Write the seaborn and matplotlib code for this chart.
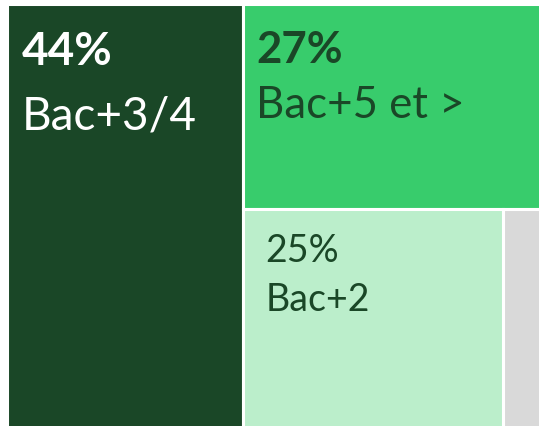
import matplotlib
matplotlib.use("Agg")
import matplotlib.pyplot as plt
from matplotlib.patches import Rectangle
import seaborn as sns

# data
labels = ["Bac+3/4", "Bac+5 et >", "Bac+2", "Autres"]
shares = [44, 27, 25, 4]
colors = ["#1a4727", "#38cc6c", "#bbeecb", "#d9d9d9"]
text_colors = ["white", "#1a4727", "#1a4727", "#1a4727"]
pct_bold = [True, True, False, False]
font_sizes = [33, 31.5, 27, 20]

sns.set_theme(style="white")
plt.rcParams["font.family"] = ["Lato", "DejaVu Sans"]

# simple treemap layout: first share is a full-height column,
# second takes the top of the rest, the others split the bottom row
total = sum(shares)
w0 = shares[0] / total
rest = total - shares[0]
h1 = shares[1] / rest
bottom = sum(shares[2:])
rects = [(0, 0, w0, 1), (w0, 0, 1 - w0, h1)]
x = w0
for s in shares[2:]:
    w = (1 - w0) * s / bottom
    rects.append((x, h1, w, 1 - h1))
    x += w

fig = plt.figure(figsize=(5.39, 4.26), dpi=100)
ax = fig.add_axes([0, 0, 1, 1])

for (rx, ry, rw, rh), c in zip(rects, colors):
    ax.add_patch(Rectangle((rx, ry), rw, rh, facecolor=c, edgecolor="white", linewidth=2.2))

# offsets (points) from each cell's top-left corner
offsets = [(11, -44.5), (9, -42.5), (16, -38.5), (10, -30)]
line_gap = [46.5, 40, 35.5, 28]
for i in range(3):
    rx, ry, rw, rh = rects[i]
    dx, dy = offsets[i]
    ax.annotate(f"{shares[i]}%", (rx, ry), xytext=(dx, dy), textcoords="offset points",
                color=text_colors[i], fontsize=font_sizes[i],
                fontweight="bold" if pct_bold[i] else "normal", va="baseline", ha="left")
    ax.annotate(labels[i], (rx, ry), xytext=(dx, dy - line_gap[i]), textcoords="offset points",
                color=text_colors[i], fontsize=font_sizes[i], va="baseline", ha="left")

# the picture is a crop of the treemap
x0, x1, y0, y1 = 6.5, 545.0, 3.5, 429.0
ax.set_xlim((0 - x0) / (x1 - x0), (539 - x0) / (x1 - x0))
ax.set_ylim((426 - y0) / (y1 - y0), (0 - y0) / (y1 - y0))
ax.axis("off")

fig.savefig("out.png", dpi=100, facecolor="white")
